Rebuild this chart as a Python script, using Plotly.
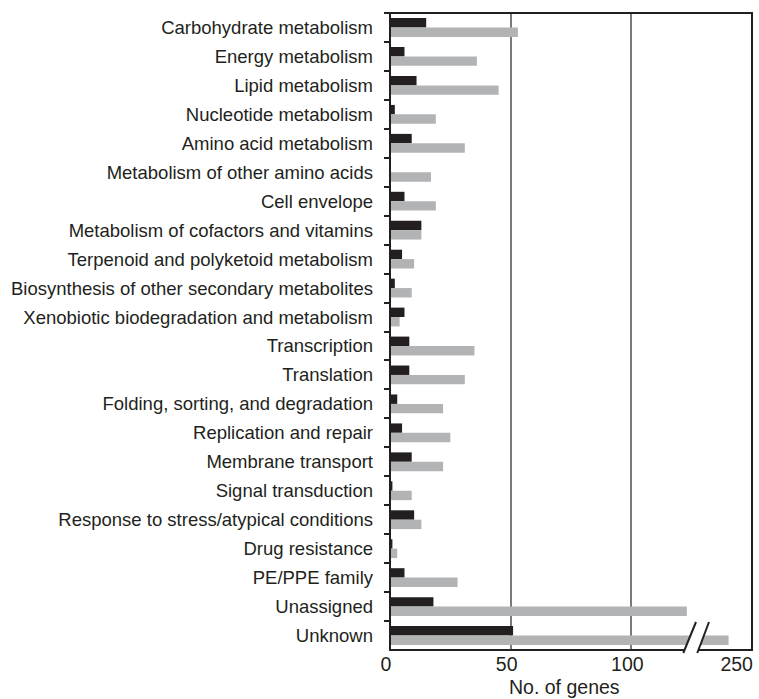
import plotly.graph_objects as go

# Functional categories, top to bottom
categories = [
    "Carbohydrate metabolism",
    "Energy metabolism",
    "Lipid metabolism",
    "Nucleotide metabolism",
    "Amino acid metabolism",
    "Metabolism of other amino acids",
    "Cell envelope",
    "Metabolism of cofactors and vitamins",
    "Terpenoid and polyketoid metabolism",
    "Biosynthesis of other secondary metabolites",
    "Xenobiotic biodegradation and metabolism",
    "Transcription",
    "Translation",
    "Folding, sorting, and degradation",
    "Replication and repair",
    "Membrane transport",
    "Signal transduction",
    "Response to stress/atypical conditions",
    "Drug resistance",
    "PE/PPE family",
    "Unassigned",
    "Unknown",
]

# Gene counts per category for the two groups
dark_counts = [15, 6, 11, 2, 9, 0, 6, 13, 5, 2, 6, 8, 8, 3, 5, 9, 1, 10, 1, 6, 18, 51]
grey_counts = [53, 36, 45, 19, 31, 17, 19, 13, 10, 9, 4, 35, 31, 22, 25, 22, 9, 13, 3, 28, 123, 245]

# Broken x axis: low segment and high segment
low_ticks = [0, 50, 100]
high_ticks = [250]
low_range = [0, 126.8]
high_range = [231.5, 254.7]

DARK = "#231f20"
GREY = "#b2b3b5"
FONT = "Liberation Sans, Arial, Helvetica, sans-serif"

split = 0.8453  # paper position of the axis break

fig = go.Figure()
for xa in ("x", "x2"):
    fig.add_trace(go.Bar(y=categories, x=dark_counts, orientation="h",
                         marker=dict(color=DARK, line=dict(width=0)),
                         xaxis=xa, yaxis="y", showlegend=False))
    fig.add_trace(go.Bar(y=categories, x=grey_counts, orientation="h",
                         marker=dict(color=GREY, line=dict(width=0)),
                         xaxis=xa, yaxis="y", showlegend=False))

axis_common = dict(
    showline=False, zeroline=False, ticks="",
    gridcolor="#7a7a7a", gridwidth=1.5,
    tickfont=dict(family=FONT, size=19.5, color=DARK),
    ticklabelshift=-4,
)

fig.update_layout(
    width=759, height=699,
    margin=dict(l=390, r=7, t=13, b=49),
    paper_bgcolor="white", plot_bgcolor="white",
    barmode="group", bargap=0.35, bargroupgap=0,
    xaxis=dict(domain=[0, split], range=low_range, tickvals=low_ticks,
               anchor="y", showgrid=True, **axis_common),
    xaxis2=dict(domain=[split, 1], range=high_range, tickvals=high_ticks,
                anchor="y", showgrid=False, **axis_common),
    yaxis=dict(type="category", categoryorder="array", categoryarray=categories,
               autorange="reversed", showgrid=False, zeroline=False,
               showline=False, ticks="outside", tickson="boundaries",
               ticklen=5, tickwidth=2, tickcolor=DARK, ticklabelstandoff=16,
               tickfont=dict(family=FONT, size=18.5, color=DARK)),
    annotations=[dict(text="No. of genes", xref="paper", yref="paper",
                      x=0.483, y=-0.037, xanchor="center", yanchor="top",
                      showarrow=False,
                      font=dict(family=FONT, size=19.5, color=DARK))],
)

# Plot frame
fig.add_shape(type="rect", xref="paper", yref="paper", x0=0, x1=1, y0=0, y1=1,
              line=dict(color=DARK, width=2), layer="above")

# Axis break: white gap bounded by two slashes
px_w, px_h = 362.0, 637.0
def px(dx):
    return dx / px_w
def py(dy):
    return dy / px_h

yb, yt = py(-3), py(28)
b1 = split - px(12.7)
t1 = split + px(0)
b2 = split + px(1.3)
t2 = split + px(13)
fig.add_shape(type="path", xref="paper", yref="paper",
              path=f"M {b1},{yb} L {t1},{yt} L {t2},{yt} L {b2},{yb} Z",
              fillcolor="white", line=dict(width=0), layer="above")
for xb, xt in ((b1, t1), (b2, t2)):
    fig.add_shape(type="line", xref="paper", yref="paper",
                  x0=xb, y0=yb, x1=xt, y1=yt,
                  line=dict(color=DARK, width=2), layer="above")

fig.write_html("out.html")
